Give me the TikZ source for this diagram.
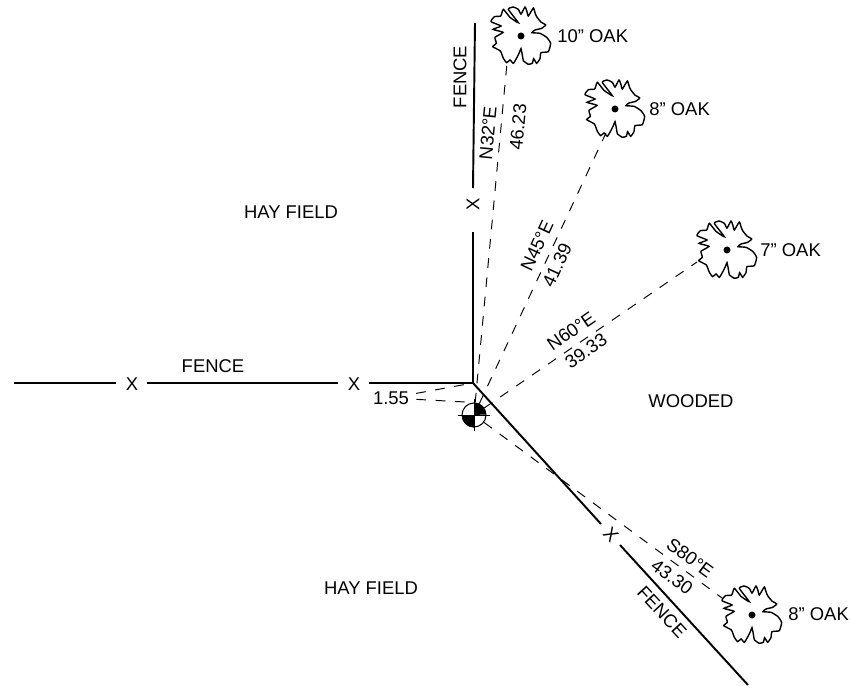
\documentclass[tikz,border=0pt]{standalone}
\usepackage{fontspec}
\setmainfont{Liberation Sans}
\usetikzlibrary{positioning}

\begin{document}
\begin{tikzpicture}[x=0.02cm,y=-0.02cm]
            \tikzstyle{every node}=[inner sep=0pt,font=\fontsize{10.5}{12}\selectfont];
            \tikzstyle{fence}=[line width=1.1pt];
            \tikzstyle{tie}=[line width=0.55pt,dash pattern=on 5.5pt off 5.5pt];
            \tikzset{oak/.pic={
                \draw[line width=0.8pt,scale=0.333] plot[smooth cycle,tension=0.3] coordinates {
                    (-43,80) (-33,72) (-23,82) (-13,66) (-5,50) (0,38) (4,57) (7,74) (14,80) (22,85)
                    (34,82) (38,68) (47,82) (57,68) (60,50) (82,47) (89,22) (77,4) (57,-8) (33,-10)
                    (42,-18) (62,-23) (74,-33) (60,-42) (47,-58) (42,-70) (37,-84) (22,-60) (18,-73) (12,-87)
                    (0,-66) (-8,-80) (-23,-87) (-38,-80) (-8,-40) (-33,-56) (-53,-80) (-61,-60) (-80,-58) (-90,-43)
                    (-60,-30) (-84,-20) (-54,-11) (-78,4) (-74,22) (-85,32) (-62,45) (-53,67)};
                \fill (0,0) circle (3.5);
            }};
            \useasboundingbox (0,0) rectangle (850,686);
            % fence lines
            \coordinate (corner) at (473,383);
            \coordinate (w1) at (14,383);
            \coordinate (w2) at (116,383);
            \coordinate (w3) at (147,383);
            \coordinate (w4) at (338,383);
            \coordinate (w5) at (369,383);
            \coordinate (n1) at (473,232);
            \coordinate (n2) at (473,188);
            \coordinate (n3) at (475,23);
            \coordinate (s1) at (601,524);
            \coordinate (s2) at (620,545);
            \coordinate (s3) at (748,685);
            \node (xw1) at (132,384) {X};
            \node (xw2) at (354,384) {X};
            \node[rotate=90] (xn) at (473,204) {X};
            \node[rotate=-47] (xs) at (611,535) {X};
            \draw[fence] (w1) -- (w2);
            \draw[fence] (w3) -- (w4);
            \draw[fence] (w5) -- (corner);
            \draw[fence] (corner) -- (n1);
            \draw[fence] (n2) -- (n3);
            \draw[fence] (corner) -- (s1);
            \draw[fence] (s2) -- (s3);
            % oaks
            \pic at (521,36) {oak};
            \pic at (615,109) {oak};
            \pic at (727,250) {oak};
            \pic at (752,615) {oak};
            \coordinate (oak1) at (507,63);
            \coordinate (oak2) at (606,133);
            \coordinate (oak3) at (697,262);
            \coordinate (oak4) at (722,598);
            \node[anchor=west] (l1) at (557,36) {10"\ OAK};
            \node[anchor=west] (l2) at (649,109) {8"\ OAK};
            \node[anchor=west] (l3) at (760,250) {7"\ OAK};
            \node[anchor=west] (l4) at (788,614) {8"\ OAK};
            % monument
            \node[circle,draw,line width=0.6pt,minimum size=0.48cm] (mon) at (474,415) {};
            \fill (mon.center) -- (mon.north) arc[start angle=90,end angle=0,radius=0.24cm] -- cycle;
            \fill (mon.center) -- (mon.south) arc[start angle=270,end angle=180,radius=0.24cm] -- cycle;
            \draw[line width=0.5pt] (mon.center) ++(0,-16) -- ++(0,32);
            \draw[line width=0.5pt] (mon.center) ++(-16,0) -- ++(32,0);
            % ties
            \draw[tie] (mon) -- (oak1);
            \draw[tie] (mon) -- (oak2);
            \draw[tie] (mon) -- (oak3);
            \draw[tie] (mon) -- (oak4);
            \node (off) at (391,398) {1.55};
            \draw[tie,shorten <=4pt] (off) -- (corner);
            \draw[tie,shorten <=4pt] (off) -- (mon.north);
            % labels
            \node (hay1) at (291,212) {HAY FIELD};
            \node (hay2) at (371,588) {HAY FIELD};
            \node (wood) at (691,401) {WOODED};
            \node (fw) at (213,366) {FENCE};
            \node[rotate=90] (fn) at (460,77) {FENCE};
            \node[rotate=-47] (fs) at (662,612) {FENCE};
            \node[rotate=84.6] (b1) at (488,133) {N32°E};
            \node[rotate=84.6] (d1) at (518,127) {46.23};
            \node[rotate=65] (b2) at (537,246) {N45°E};
            \node[rotate=65] (d2) at (557,265) {41.39};
            \node[rotate=34.5] (b3) at (571,331) {N60°E};
            \node[rotate=34.5] (d3) at (586,351) {39.33};
            \node[rotate=-36.4] (b4) at (690,558) {S80°E};
            \node[rotate=-36.4] (d4) at (672,577) {43.30};
        \end{tikzpicture}
\end{document}
